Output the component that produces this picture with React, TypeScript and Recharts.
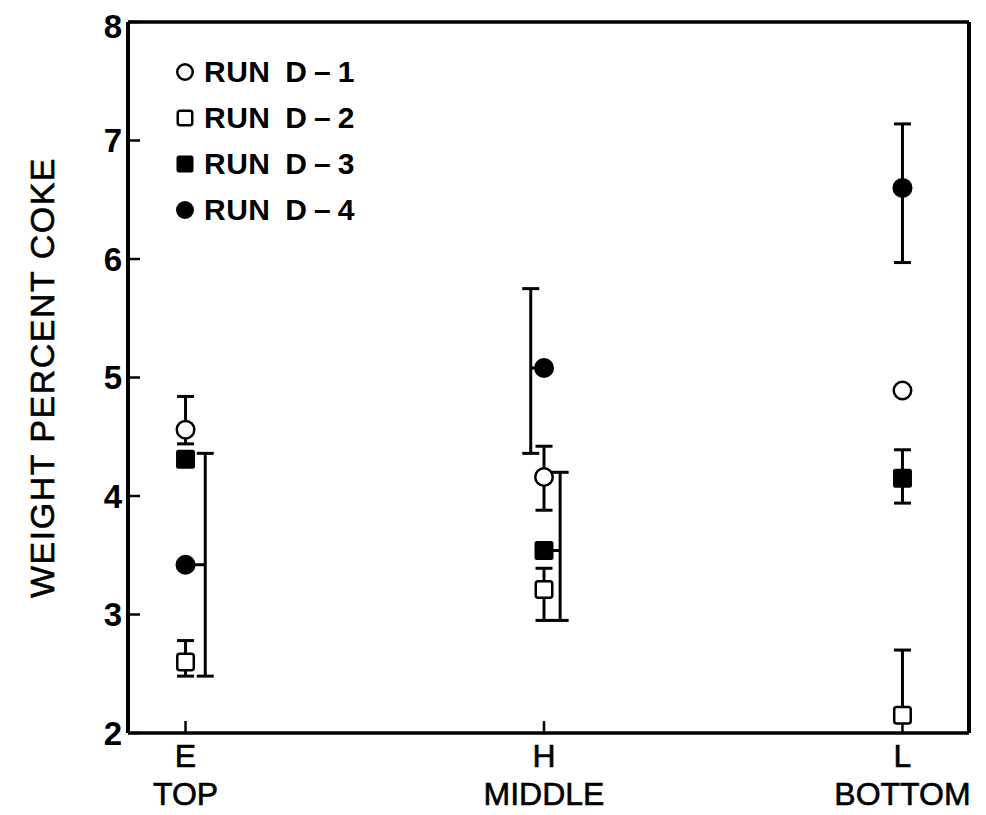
import { ScatterChart, Scatter, XAxis, YAxis, ErrorBar, Legend } from "recharts";

const FONT = '"Liberation Sans", Arial, Helvetica, sans-serif';

const categories = ["E", "H", "L"];
const locations = ["TOP", "MIDDLE", "BOTTOM"];
const yTicks = [2, 3, 4, 5, 6, 7, 8];

// weight percent coke per location, with lower / upper error
const runD1 = [4.56, 4.16, 4.89];
const runD1Low = [0.12, 0.28, 0];
const runD1High = [0.28, 0.26, 0];

const runD2 = [2.6, 3.21, 2.15];
const runD2Low = [0.12, 0.26, 0];
const runD2High = [0.18, 0.18, 0.55];

const runD3 = [4.31, 3.54, 4.15];
const runD3Low = [0, 0.59, 0.21];
const runD3High = [0, 0.66, 0.24];

const runD4 = [3.42, 5.08, 6.6];
const runD4Low = [0.94, 0.72, 0.63];
const runD4High = [0.94, 0.67, 0.54];

// some error bars are drawn beside the marker (x units) so they don't overlap
const barShift: Record<string, number[]> = {
  "D-3": [0, 0.045, 0],
  "D-4": [0.055, -0.037, 0],
};

type Kind = "openCircle" | "openSquare" | "filledSquare" | "filledCircle";

const series: { name: string; kind: Kind; values: number[]; low: number[]; high: number[] }[] = [
  { name: "D-1", kind: "openCircle", values: runD1, low: runD1Low, high: runD1High },
  { name: "D-2", kind: "openSquare", values: runD2, low: runD2Low, high: runD2High },
  { name: "D-3", kind: "filledSquare", values: runD3, low: runD3Low, high: runD3High },
  { name: "D-4", kind: "filledCircle", values: runD4, low: runD4Low, high: runD4High },
];

const markerRows = (s: (typeof series)[number]) =>
  s.values.map((v, i) => {
    const shift = barShift[s.name]?.[i] ?? 0;
    return { x: i + 1, y: v, err: shift ? [0, 0] : [s.low[i], s.high[i]] };
  });

const shiftedRows = (s: (typeof series)[number]) =>
  s.values
    .map((v, i) => {
      const shift = barShift[s.name]?.[i] ?? 0;
      return {
        x: i + 1 + shift,
        y: v,
        shift,
        err: [s.low[i], s.high[i]],
        link: shift > 0 ? [shift, 0] : [0, -shift],
      };
    })
    .filter((r) => r.shift !== 0);

function Marker({ kind, cx, cy, size }: { kind: Kind; cx: number; cy: number; size: number }) {
  const h = size / 2;
  if (kind === "openCircle")
    return <circle cx={cx} cy={cy} r={h - 1.25} fill="#fff" stroke="#000" strokeWidth={2.5} />;
  if (kind === "filledCircle") return <circle cx={cx} cy={cy} r={h} fill="#000" />;
  if (kind === "openSquare")
    return (
      <rect x={cx - h + 1.25} y={cy - h + 1.25} width={size - 2.5} height={size - 2.5} rx={2.5}
        fill="#fff" stroke="#000" strokeWidth={2.5} />
    );
  return <rect x={cx - h} y={cy - h} width={size} height={size} rx={2.5} fill="#000" />;
}

const CatTick = (props: any) => {
  const { x, y, payload } = props;
  const i = Math.round(payload.value) - 1;
  return (
    <g fontFamily={FONT} fontSize={32} fill="#000">
      <text x={x} y={y + 34} textAnchor="middle" stroke="#000" strokeWidth={0.6}>{categories[i]}</text>
      <text x={x} y={y + 72} textAnchor="middle" stroke="#000" strokeWidth={0.6}>{locations[i]}</text>
    </g>
  );
};

const RunLegend = () => (
  <div style={{ fontFamily: FONT, fontWeight: 700, fontSize: 30, lineHeight: 1, color: "#000" }}>
    {series.map((s) => (
      <div key={s.name} style={{ display: "flex", alignItems: "center", height: 46 }}>
        <svg width={20} height={20} style={{ display: "block" }}>
          <Marker kind={s.kind} cx={10} cy={10} size={s.kind.endsWith("Circle") ? 18 : 17} />
        </svg>
        <span style={{ marginLeft: 9, whiteSpace: "nowrap", letterSpacing: 0.5 }}>
          RUN{" "}
          <span style={{ marginLeft: 6, letterSpacing: 7 }}>{s.name.replace("-", "–")}</span>
        </span>
      </div>
    ))}
  </div>
);

const frame = { stroke: "#000", strokeWidth: 3.5 };
const tickStroke = { stroke: "#000", strokeWidth: 2.5 };
const xDomain = [0.8395, 3.1856];

export default function App() {
  return (
    <ScatterChart width={978} height={807} margin={{ top: 13, right: 16, bottom: 2, left: 0 }}>
      <XAxis xAxisId="b" type="number" dataKey="x" domain={xDomain} ticks={[1, 2, 3]} allowDataOverflow
        height={80} axisLine={frame} tickLine={tickStroke} tickSize={-12} tickMargin={12} tick={<CatTick />} />
      <XAxis xAxisId="t" orientation="top" type="number" dataKey="x" domain={xDomain} ticks={[1, 2, 3]} allowDataOverflow
        height={1} axisLine={frame} tickLine={tickStroke} tickSize={-12} tick={false} />
      <YAxis yAxisId="l" type="number" dataKey="y" domain={[2, 8]} ticks={yTicks} allowDataOverflow width={120}
        axisLine={{ stroke: "#000", strokeWidth: 4 }} tickLine={tickStroke} tickSize={-12} tickMargin={18}
        tick={{ fill: "#000", fontSize: 33, fontWeight: 700, fontFamily: FONT }}
        label={{ value: "WEIGHT PERCENT COKE", angle: -90, position: "center", dx: -26,
          style: { fontFamily: FONT, fontSize: 34, letterSpacing: 1.5, fill: "#000", stroke: "#000", strokeWidth: 0.6 } }} />
      <YAxis yAxisId="r" orientation="right" type="number" dataKey="y" domain={[2, 8]} ticks={yTicks} allowDataOverflow
        width={1} axisLine={{ stroke: "#000", strokeWidth: 4 }} tickLine={tickStroke} tickSize={-12} tick={false} />
      <Legend layout="horizontal" align="center" verticalAlign="middle" content={<RunLegend />}
        wrapperStyle={{ left: 167, top: 41, width: 260, height: 190 }} />

      {series.map((s) => (
        <Scatter key={`bar-${s.name}`} xAxisId="b" yAxisId="l" data={shiftedRows(s)} isAnimationActive={false}
          legendType="none" shape={() => <g />}>
          <ErrorBar dataKey="err" direction="y" width={8.5} stroke="#000" strokeWidth={3} isAnimationActive={false} />
          <ErrorBar dataKey="link" direction="x" width={0} stroke="#000" strokeWidth={3} isAnimationActive={false} />
        </Scatter>
      ))}
      {series.map((s) => (
        <Scatter key={s.name} name={`RUN ${s.name}`} xAxisId="b" yAxisId="l" data={markerRows(s)} isAnimationActive={false}
          shape={(p: any) => <Marker kind={s.kind} cx={p.cx} cy={p.cy} size={s.kind.endsWith("Circle") ? 20 : 19} />}>
          <ErrorBar dataKey="err" direction="y" width={8.5} stroke="#000" strokeWidth={3} isAnimationActive={false} />
        </Scatter>
      ))}
    </ScatterChart>
  );
}
